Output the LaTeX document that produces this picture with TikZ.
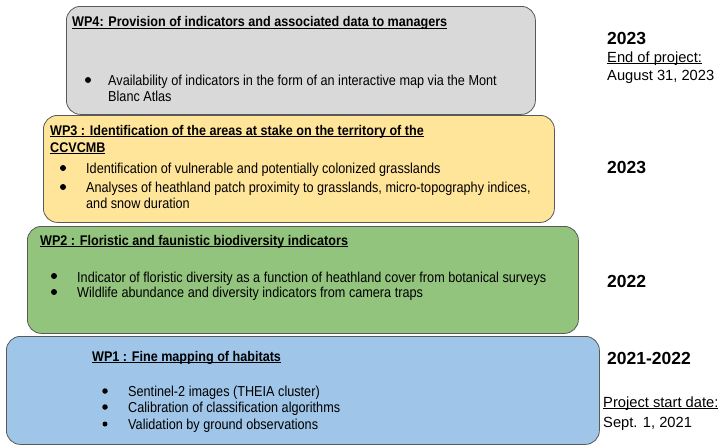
\documentclass[tikz,border=0pt]{standalone}
\usepackage{fontspec}
\setmainfont{Liberation Sans}
\newfontfamily\titlefont[FakeStretch=0.9]{Liberation Sans}
\newfontfamily\itemfont[FakeStretch=0.88]{Liberation Sans}
\usepackage{tikz}

\definecolor{wpgray}{HTML}{D9D9D9}
\definecolor{wpyellow}{HTML}{FFE599}
\definecolor{wpgreen}{HTML}{93C47D}
\definecolor{wpblue}{HTML}{9FC5E8}
\definecolor{wpline}{HTML}{595959}

\newcommand{\wpul}[1]{\setbox0\hbox{#1}\leavevmode\rlap{\rule[-2.4pt]{\wd0}{1.4pt}}\box0}

\begin{document}
\begin{tikzpicture}[x=1pt,y=-1pt]
 \tikzstyle{wpbox} = [draw=wpline,line width=0.8pt,rounded corners=14pt,anchor=north west,inner sep=0pt];
 \tikzstyle{wptitle} = [anchor=base west,inner sep=0pt,align=left,font=\titlefont\bfseries\fontsize{14}{17}\selectfont];
 \tikzstyle{wpdot} = [circle,fill=black,inner sep=0pt,minimum size=6pt];
 \tikzstyle{wpitem} = [anchor=base west,inner sep=0pt,align=left,font=\itemfont\fontsize{14.4}{16}\selectfont];
 \tikzstyle{year} = [anchor=base west,inner sep=0pt,font=\bfseries\fontsize{17.5}{20}\selectfont];
 \tikzstyle{date} = [anchor=base west,inner sep=0pt,font=\fontsize{14.7}{18}\selectfont];

 \useasboundingbox (0,0) rectangle (720,447);

 % work package boxes
 \node[wpbox,fill=wpgray,minimum width=469pt,minimum height=108pt,name=wp4] at (66,6) {};
 \node[wpbox,fill=wpyellow,minimum width=511pt,minimum height=107pt,name=wp3] at (43,115) {};
 \node[wpbox,fill=wpgreen,minimum width=551pt,minimum height=107pt,name=wp2] at (27,226) {};
 \node[wpbox,fill=wpblue,minimum width=593pt,minimum height=108pt,name=wp1] at (6,336) {};

 % WP4 (multi-line nodes sit on their last line)
 \node[wptitle,name=wp4title] at (72,27) {\wpul{WP4: Provision of indicators and associated data to managers}};
 \node[wpdot,name=wp4dot] at (88,80) {};
 \node[wpitem,name=wp4item] at (108,101) {Availability of indicators in the form of an interactive map via the Mont\\Blanc Atlas};

 % WP3
 \node[wptitle,name=wp3title] at (50,152) {\wpul{WP3 : Identification of the areas at stake on the territory of the}\\\wpul{CCVCMB}};
 \node[wpdot,name=wp3dota] at (63,168) {};
 \node[wpitem,name=wp3itema] at (86,173) {Identification of vulnerable and potentially colonized grasslands};
 \node[wpdot,name=wp3dotb] at (63,187) {};
 \node[wpitem,name=wp3itemb] at (86,208) {Analyses of heathland patch proximity to grasslands, micro-topography indices,\\and snow duration};

 % WP2
 \node[wptitle,name=wp2title] at (40,245) {\wpul{WP2 : Floristic and faunistic biodiversity indicators}};
 \node[wpdot,name=wp2dota] at (54,276) {};
 \node[wpitem,name=wp2itema] at (77,282) {Indicator of floristic diversity as a function of heathland cover from botanical surveys};
 \node[wpdot,name=wp2dotb] at (54,292) {};
 \node[wpitem,name=wp2itemb] at (77,297) {Wildlife abundance and diversity indicators from camera traps};

 % WP1
 \node[wptitle,name=wp1title] at (92,361) {\wpul{WP1 : Fine mapping of habitats}};
 \node[wpdot,minimum size=5.5pt,name=wp1dota] at (105,391) {};
 \node[wpitem,name=wp1itema] at (128,396) {Sentinel-2 images (THEIA cluster)};
 \node[wpdot,minimum size=5.5pt,name=wp1dotb] at (105,407) {};
 \node[wpitem,name=wp1itemb] at (128,412) {Calibration of classification algorithms};
 \node[wpdot,minimum size=5pt,name=wp1dotc] at (105,424) {};
 \node[wpitem,name=wp1itemc] at (128,429) {Validation by ground observations};

 % timeline
 \node[year,name=y4] at (607,44) {2023};
 \node[date,name=endlabel] at (607,62) {\wpul{End of project:}};
 \node[date,name=enddate] at (607,80) {August 31, 2023};
 \node[year,name=y3] at (607,173) {2023};
 \node[year,name=y2] at (607,287) {2022};
 \node[year,name=y1] at (607,364) {2021-2022};
 \node[date,name=startlabel] at (603,407) {\wpul{Project start date:}};
 \node[date,name=startdate] at (603,427) {Sept. 1, 2021};

\end{tikzpicture}
\end{document}
